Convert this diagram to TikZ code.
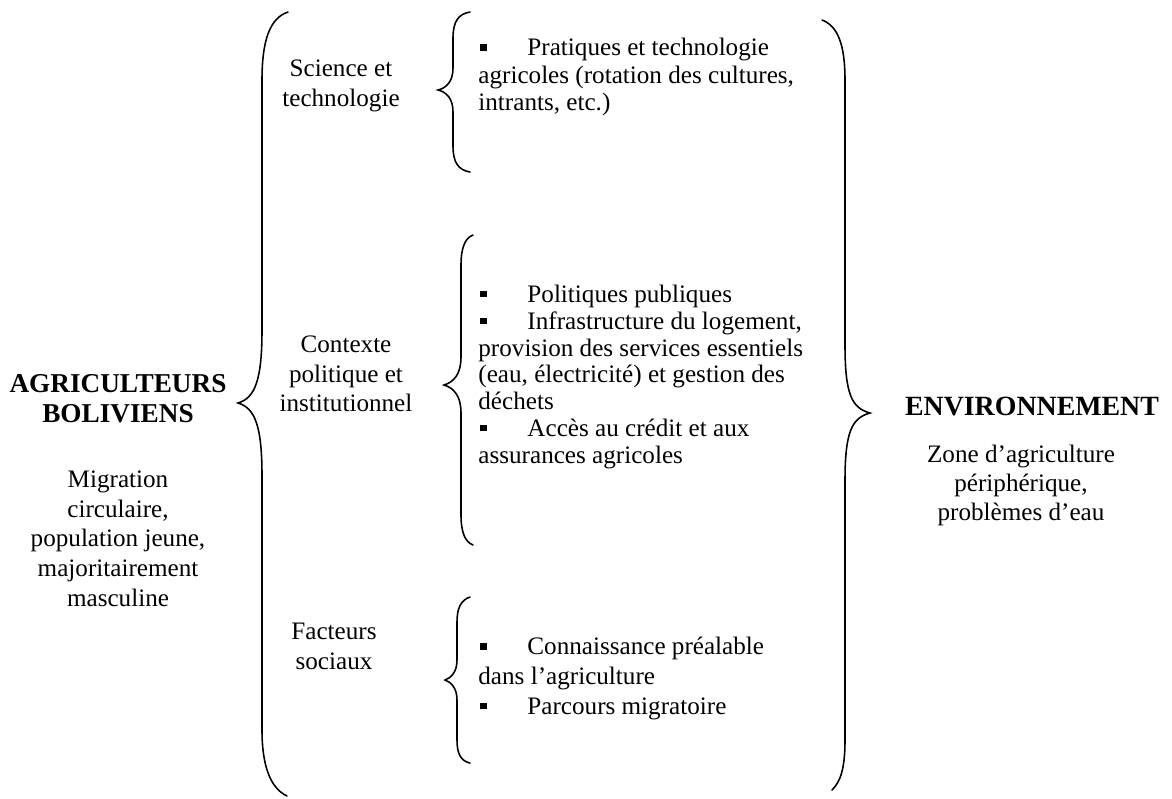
\documentclass[tikz,border=0pt]{standalone}
\usepackage{fontspec}
\setmainfont{Liberation Serif}
\usetikzlibrary{positioning}
\newcommand{\puce}{\makebox[23.4pt][l]{\hspace{0.8pt}\raisebox{2.4pt}{\rule{3.1pt}{3.1pt}}}}

\begin{document}
\begin{tikzpicture}[x=0.4773pt, y=-0.4773pt]
        \tikzstyle{brace}=[line width=0.75pt, line cap=round]
        \tikzstyle{titre}=[inner sep=0pt, align=center, font=\bfseries\fontsize{13}{14.3}\selectfont]
        \tikzstyle{facteur}=[inner sep=0pt, align=center, anchor=north, font=\fontsize{12}{14.3}\selectfont]
        \tikzstyle{liste}=[inner sep=0pt, align=left, anchor=north west]

        \useasboundingbox (0,0) rectangle (1172,798);

        % agriculteurs et environnement
        \node[titre, anchor=north] (agri) at (118,374) {AGRICULTEURS\\BOLIVIENS};
        \node[facteur, anchor=north] (agridesc) at (118,470) {Migration\\circulaire,\\population jeune,\\majoritairement\\masculine};
        \node[titre, anchor=base, font=\bfseries\fontsize{13.3}{14.3}\selectfont] (env) at (1032,415) {ENVIRONNEMENT};
        \node[facteur, font=\fontsize{12}{13.8}\selectfont] (envdesc) at (1021,445) {Zone d’agriculture\\périphérique,\\problèmes d’eau};

        % les trois facteurs
        \node[facteur] (science) at (341,59) {Science et\\technologie};
        \node[facteur] (contexte) at (346,335) {Contexte\\politique et\\institutionnel};
        \node[facteur] (social) at (334,623) {Facteurs\\sociaux};

        % listes
        \node[liste, font=\fontsize{12}{13.1}\selectfont] (lscience) at (478,38) {\puce Pratiques et technologie\\agricoles (rotation des cultures,\\intrants, etc.)};
        \node[liste, font=\fontsize{12}{12.8}\selectfont] (lcontexte) at (478,284.5) {\puce Politiques publiques\\\puce Infrastructure du logement,\\provision des services essentiels\\(eau, électricité) et gestion des\\déchets\\\puce Accès au crédit et aux\\assurances agricoles};
        \node[liste, font=\fontsize{12}{14.2}\selectfont] (lsocial) at (478,637) {\puce Connaissance préalable\\dans l’agriculture\\\puce Parcours migratoire};

        % grande accolade gauche
        \draw[brace] (288,12) .. controls (270,18) and (262,40) .. (262,80) -- (262,330)
            .. controls (262,380) and (255,398) .. (238,403)
            .. controls (255,408) and (262,426) .. (262,476) -- (262,730)
            .. controls (262,765) and (270,788) .. (287,796);
        % grande accolade droite
        \draw[brace] (822,20) .. controls (838,26) and (845,45) .. (845,80) -- (845,345)
            .. controls (845,395) and (852,408) .. (870,413)
            .. controls (852,418) and (845,431) .. (845,481) -- (845,740)
            .. controls (845,770) and (840,782) .. (832,790);

        % petites accolades
        \draw[brace] (470,12) .. controls (458,14) and (453,22) .. (453,38) -- (453,68)
            .. controls (453,82) and (446,88) .. (438,90)
            .. controls (446,92) and (453,98) .. (453,112) -- (453,146)
            .. controls (453,162) and (458,170) .. (470,172);
        \draw[brace] (473,235) .. controls (465,238) and (461,248) .. (461,265) -- (461,357)
            .. controls (461,374) and (454,382) .. (444,385)
            .. controls (454,388) and (461,396) .. (461,413) -- (461,515)
            .. controls (461,532) and (465,542) .. (473,545);
        \draw[brace] (470,597) .. controls (461,600) and (457,608) .. (457,622) -- (457,660)
            .. controls (457,672) and (451,678) .. (445,680)
            .. controls (451,682) and (457,688) .. (457,700) -- (457,740)
            .. controls (457,754) and (461,761) .. (470,763);
    \end{tikzpicture}
\end{document}
